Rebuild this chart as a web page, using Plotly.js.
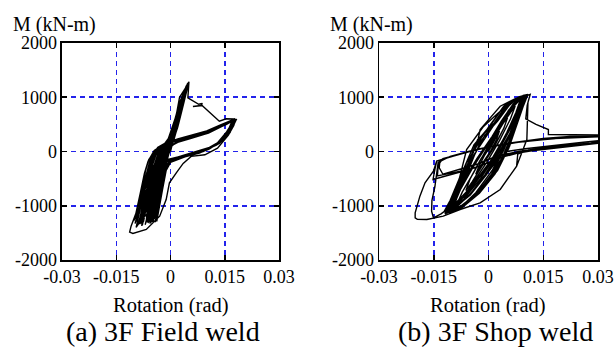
<!DOCTYPE html>
<html>
<head>
<meta charset="utf-8">
<script src="https://cdn.plot.ly/plotly-3.0.1.min.js"></script>
<style>html,body{margin:0;padding:0;background:#fff;}#chart{width:615px;height:347px;}</style>
</head>
<body>
<div id="chart"></div>
<script>
// ---- Data: [rotation (rad), moment (kN-m)] ----
var tickValsX = [-0.03, -0.015, 0, 0.015, 0.03];
var tickTextX = ['-0.03', '-0.015', '0', '0.015', '0.03'];
var tickValsY = [-2000, -1000, 0, 1000, 2000];
var tickTextY = ['-2000', '-1000', '0', '1000', '2000'];
var captions = ['(a) 3F Field weld', '(b) 3F Shop weld'];
var xTitle = 'Rotation (rad)';
var yTitle = 'M (kN-m)';

// (a) 3F Field weld
var fieldPoints = [
 [0,0],
 [0.001,300],[0.0015,420],[0.0008,200],[-0.0005,-50],[-0.0015,-300],[-0.0025,-550],[-0.002,-400],[-0.001,-100],[0,150],
 [0.0015,500],[0.0028,800],[0.0022,650],[0.0008,250],[-0.0008,-50],[-0.0025,-400],[-0.004,-850],[-0.0035,-700],[-0.0022,-250],[-0.001,50],[0.0005,300],
 [0.002,650],[0.0038,1050],[0.0032,900],[0.0015,450],[0,50],[-0.002,-200],[-0.0035,-550],[-0.0048,-1000],[-0.0055,-1250],[-0.0048,-1050],[-0.0035,-600],[-0.0022,-150],[-0.0005,200],
 [0.0015,550],[0.0035,1000],[0.0048,1230],[0.0042,1080],[0.0025,650],[0.0008,200],[-0.0015,-100],[-0.0035,-450],[-0.005,-950],[-0.0062,-1320],[-0.0055,-1150],[-0.004,-650],[-0.0028,-200],[-0.001,150],
 [0.001,450],[0.0025,1000],[0.0046,1220],[0.005,1260],[0.0043,1080],[0.0022,580],[0.0005,150],[-0.002,-150],[-0.004,-500],[-0.0055,-950],[-0.007,-1350],[-0.0063,-1180],[-0.005,-700],[-0.0038,-250],[-0.0015,150],
 [0.0005,250],[0.0025,900],[0.0045,1220],[0.0049,1250],[0.0044,1100],[0.003,750],[0.0015,350],[0,80],[-0.0015,-80],[-0.003,-250],[-0.0042,-600],[-0.0052,-1000],[-0.0058,-1280],[-0.0053,-1120],[-0.0042,-700],[-0.003,-250],[-0.0015,50],
 [0.0002,300],[0.0022,850],[0.004,1150],[0.0048,1240],[0.0045,1150],[0.0032,800],[0.0015,380],[-0.0003,100],[-0.002,-60],[-0.0038,-250],[-0.005,-500],[-0.0062,-900],[-0.0075,-1300],[-0.0068,-1100],[-0.0057,-700],[-0.0045,-300],[-0.0025,20],
 [-0.0005,150],[0.0018,700],[0.0036,1050],[0.005,1260],[0.0046,1170],[0.0035,850],[0.002,450],[0.0005,150],[-0.001,-30],[-0.0025,-200],[-0.0035,-500],[-0.0045,-900],[-0.0052,-1300],[-0.0047,-1150],[-0.0038,-800],[-0.0028,-350],[-0.0015,0],
 [0,200],[0.0025,850],[0.0042,1180],[0.0051,1270],[0.0047,1180],[0.0037,900],[0.0022,500],[0.0006,180],[-0.0012,20],[-0.003,-180],[-0.0048,-450],[-0.006,-800],[-0.0072,-1200],[-0.0078,-1360],[-0.0072,-1200],[-0.006,-750],[-0.005,-350],[-0.0035,-50],
 [-0.0012,100],[0.001,500],[0.003,950],[0.0047,1240],[0.0043,1120],[0.0032,800],[0.0018,420],[0.0002,120],[-0.0018,-30],[-0.0035,-200],[-0.0043,-550],[-0.005,-950],[-0.0057,-1330],[-0.0052,-1180],[-0.0044,-800],[-0.0036,-400],[-0.002,-20],
 [0,250],[0.0023,820],[0.0041,1160],[0.005,1265],[0.0046,1150],[0.0034,820],[0.0019,430],[0.0003,130],[-0.0015,-20],[-0.0033,-220],[-0.0047,-520],[-0.0058,-920],[-0.0068,-1310],[-0.0062,-1150],[-0.0052,-750],[-0.0042,-330],[-0.0025,20],
 [0,240],[0.0026,880],[0.0043,1200],[0.005,1275],[0.0044,1130],[0.0031,760],[0.0014,340],[-0.0004,90],[-0.002,-80],[-0.0036,-300],[-0.0042,-700],[-0.0047,-1050],[-0.0048,-1300],[-0.0043,-1120],[-0.0036,-750],[-0.0028,-300],[-0.0012,60],
 [0.0012,450],[0.003,900],[0.0046,1200],[0.0049,1230],[0.0042,1050],[0.0028,700],[0.001,280],[-0.0008,60],[-0.0025,-120],[-0.0045,-350],[-0.0055,-650],[-0.0063,-1000],[-0.0067,-1280],[-0.0061,-1100],[-0.0053,-700],[-0.0046,-300],[-0.003,30],
 [-0.0008,200],[0.0015,650],[0.0033,1000],[0.0048,1250],[0.0045,1150],[0.0036,900],[0.0022,520],[0.0008,200],[-0.0008,20],[-0.0022,-150],[-0.0032,-450],[-0.004,-850],[-0.0046,-1250],[-0.0042,-1100],[-0.0034,-700],[-0.0025,-300],[-0.001,80],
 [0.001,400],[0.0027,850],[0.0045,1210],[0.0051,1280],[0.0047,1190],[0.0038,950],[0.0024,560],[0.001,230],[-0.0006,50],[-0.0028,-160],[-0.0052,-400],[-0.0066,-750],[-0.0078,-1150],[-0.0085,-1340],[-0.0079,-1200],[-0.0068,-800],[-0.0058,-350],[-0.0042,-60],[-0.0015,120],
 [0.0008,420],[0.0029,880],[0.0047,1250],[0.0043,1100],[0.003,780],[0.0013,330],[-0.0005,70],[-0.0022,-110],[-0.004,-330],[-0.0051,-720],[-0.006,-1100],[-0.0064,-1300],[-0.0058,-1130],[-0.0049,-720],[-0.004,-320],[-0.0022,40],
 [0.0005,350],[0.0024,840],[0.0044,1200],[0.0049,1260],[0.0045,1160],[0.0034,850],[0.0018,430],[0.0002,140],[-0.0016,-40],[-0.0034,-230],[-0.0046,-560],[-0.0056,-960],[-0.0062,-1250],[-0.0056,-1080],[-0.0047,-680],[-0.0038,-290],[-0.002,40],
 [0,300],[0.002,780],[0.0039,1120],[0.005,1270],[0.0045,1140],[0.0033,820],[0.0017,400],[0,110],[-0.0017,-60],[-0.0032,-300],[-0.0038,-650],[-0.0043,-1000],[-0.0045,-1240],[-0.004,-1080],[-0.0032,-700],[-0.0024,-280],[-0.001,70],
 [0.0012,480],[0.0031,920],[0.0047,1230],[0.0051,1280],[0.0046,1170],[0.0036,880],[0.002,470],[0.0004,150],[-0.0014,-20],[-0.0034,-200],[-0.0055,-420],[-0.007,-800],[-0.0082,-1180],[-0.0089,-1330],[-0.0083,-1180],[-0.0072,-780],[-0.0063,-340],[-0.0048,-60],[-0.002,110],
 [0.0004,330],[0.0024,830],[0.0043,1190],[0.005,1270],[0.0045,1150],[0.0033,810],[0.0016,390],[-0.0002,100],[-0.0019,-70],[-0.0037,-280],[-0.0049,-620],[-0.0058,-1000],[-0.0064,-1290],[-0.0058,-1120],[-0.005,-720],[-0.0041,-310],[-0.0023,30],
 [-0.0002,250],[0.002,760],[0.004,1150],[0.0049,1255],[0.0044,1120],[0.0032,790],[0.0016,380],[-0.0001,100],[-0.0018,-50],[-0.0036,-240],[-0.0044,-580],[-0.0052,-980],[-0.0058,-1300],[-0.0053,-1140],[-0.0045,-760],[-0.0037,-360],[-0.002,10],
 [0.0008,420],[0.0028,860],[0.0044,1180],[0.0051,1287],
 [0.0048,990],[0.0078,870],[0.0088,885],[0.0085,850],[0.0062,830],[0.0088,845],[0.0135,558],[0.0154,603],[0.0175,600],[0.0182,590],
 [0.017,420],[0.0145,220],[0.011,80],[0.007,0],[0.003,-80],[-0.001,-180],[-0.0035,-400],[-0.0055,-800],[-0.0075,-1250],[-0.008,-1370],
 [-0.0072,-1150],[-0.0062,-700],[-0.0052,-300],[-0.0038,0],[-0.0015,150],[0.002,230],[0.006,300],[0.01,380],[0.0135,480],[0.0165,560],[0.0178,600],
 [0.0168,420],[0.014,200],[0.0115,80],[0.008,-30],[0.004,-100],[0,-200],[-0.002,-350],[-0.0035,-700],[-0.005,-1200],[-0.0055,-1320],
 [-0.005,-1100],[-0.004,-650],[-0.0028,-250],[-0.0012,100],[0.0015,200],[0.005,270],[0.009,330],[0.0125,430],[0.0155,520],[0.0172,590],
 [0.016,400],[0.013,160],[0.0095,20],[0.006,-60],[0.002,-130],[-0.0008,-220],[-0.0018,-450],[-0.003,-900],[-0.0042,-1300],
 [-0.0038,-1100],[-0.003,-700],[-0.0022,-300],[-0.0008,80],[0.002,180],[0.006,250],[0.0105,340],[0.0145,470],[0.0168,560],
 [0.0165,350],[0.0135,150],[0.01,30],[0.006,-40],[0.002,-100],[-0.001,-150],[-0.0035,-220],[-0.0058,-300],[-0.0072,-700],[-0.0088,-1100],[-0.0098,-1330],
 [-0.0092,-1200],[-0.0078,-800],[-0.0066,-400],[-0.0054,-100],[-0.0035,80],[-0.001,170],[0.003,250],[0.008,310],[0.012,400],[0.0155,500],[0.0175,580],
 [0.0165,400],[0.0138,180],[0.0105,40],[0.007,-40],[0.003,-90],[0,-160],[-0.0025,-250],[-0.0045,-450],[-0.0062,-850],[-0.0078,-1250],[-0.0082,-1330],
 [-0.0076,-1150],[-0.0064,-700],[-0.0055,-300],[-0.0042,-50],[-0.002,120],[0.001,190],[0.005,270],[0.0095,340],[0.013,440],[0.016,540],[0.0178,595],
 [0.0168,430],[0.0142,200],[0.0108,50],[0.0075,-40],[0.0035,-90],[0.0005,-170],[-0.0015,-300],[-0.0028,-650],[-0.004,-1050],[-0.0048,-1300],
 [-0.0043,-1100],[-0.0033,-650],[-0.0024,-250],[-0.001,60],[0.002,170],[0.007,270],[0.011,360],[0.0145,480],[0.017,570],
 [0.016,380],[0.0132,170],[0.0098,40],[0.0065,-30],[0.003,-80],[0.0005,-130],[-0.002,-200],[-0.004,-300],[-0.0055,-600],[-0.0068,-1000],[-0.0076,-1280],
 [-0.007,-1120],[-0.0062,-750],[-0.0058,-300],[-0.0045,-100],[-0.0025,60],[0.0005,170],[0.004,240],[0.0085,310],[0.0125,410],[0.0158,520],[0.0176,590],
 [0.0163,370],[0.0136,160],[0.0102,30],[0.0068,-45],[0.0032,-110],[0,-200],[-0.0012,-350],[-0.0022,-700],[-0.0032,-1100],[-0.0038,-1290],
 [-0.0034,-1100],[-0.0027,-700],[-0.002,-300],[-0.0008,40],[0.0015,160],[0.0055,240],[0.01,330],[0.014,460],[0.0172,580],
 [0.016,350],[0.0128,120],[0.0092,10],[0.0055,-60],[0.002,-120],[-0.0012,-200],[-0.0038,-280],[-0.0062,-500],[-0.0078,-900],[-0.009,-1200],[-0.0096,-1300],
 [-0.009,-1150],[-0.0079,-750],[-0.0069,-350],[-0.006,-150],[-0.004,40],[-0.0012,150],[0.003,240],[0.0075,300],[0.0115,380],[0.015,490],[0.0179,600],
 [0.0166,390],[0.0139,190],[0.0106,50],[0.0072,-30],[0.0035,-80],[0.0008,-140],[-0.0012,-250],[-0.0033,-500],[-0.0052,-900],[-0.0064,-1250],
 [-0.0059,-1100],[-0.0049,-700],[-0.0042,-300],[-0.003,0],[-0.001,140],[0.0025,220],[0.007,290],[0.011,370],[0.0148,490],[0.0172,575],
 [0.0162,360],[0.0133,150],[0.0099,25],[0.0062,-50],[0.0025,-110],[-0.0008,-170],[-0.0035,-250],[-0.0058,-330],[-0.0075,-750],[-0.0092,-1150],[-0.0102,-1280],
 [-0.0096,-1150],[-0.0084,-780],[-0.0072,-400],[-0.0062,-180],[-0.0045,20],[-0.0015,150],[0.0025,230],[0.0072,300],[0.0112,380],[0.015,500],[0.0177,595],
 [0.0164,380],[0.0136,170],[0.0103,40],[0.0068,-40],[0.003,-95],[0.0002,-150],[-0.0022,-220],[-0.0045,-380],[-0.006,-780],[-0.0072,-1150],[-0.0079,-1300],
 [-0.0073,-1130],[-0.0063,-720],[-0.0054,-330],[-0.004,-60],[-0.0018,120],[0.0012,190],[0.0052,265],[0.0095,340],[0.0132,450],[0.0163,550],[0.0178,600],
 [0.0155,360],[0.0125,120],[0.009,0],[0.005,-70],[0.001,-150],[-0.002,-300],[-0.0045,-700],[-0.0065,-1150],[-0.0085,-1300],[-0.0095,-1400],
 [-0.009,-1250],[-0.0078,-900],[-0.0066,-500],[-0.0055,-200],[-0.0042,-20],[-0.002,130],[0.001,200],[0.0045,260],[0.0085,320],[0.012,400],[0.015,500],[0.018,590],
 [0.0175,480],[0.016,300],[0.013,60],[0.0095,-60],[0.0057,-90],[0.0035,-220],[0.0016,-393],[-0.0003,-577],[-0.0012,-885],[-0.003,-1192],[-0.0067,-1437],[-0.0104,-1511],[-0.0113,-1487],
 [-0.0109,-1376],[-0.0095,-1130],[-0.0077,-700],[-0.0063,-332],[-0.0049,-86],[-0.003,98],[-0.0003,190],[0.002,210]
];

// (b) 3F Shop weld
var shopPoints = [
 [0,0],
 [0.0015,200],[0.003,380],[0.0022,220],[0.0005,0],[-0.0015,-200],[-0.0035,-420],[-0.0027,-280],[-0.001,-60],[0.001,150],
 [0.0035,480],[0.0052,620],[0.0042,430],[0.0015,80],[-0.0015,-250],[-0.0045,-560],[-0.0062,-720],[-0.005,-500],[-0.0022,-150],[0.001,180],
 [0.004,520],[0.0065,780],[0.0073,840],[0.006,600],[0.003,200],[-0.0005,-200],[-0.004,-550],[-0.007,-850],[-0.0088,-990],[-0.0072,-750],[-0.004,-380],[-0.0005,50],
 [0.003,420],[0.0065,800],[0.009,980],[0.0093,990],[0.0078,700],[0.0045,280],[0.0008,-150],[-0.003,-500],[-0.007,-850],[-0.0105,-1080],[-0.0108,-1100],[-0.009,-850],[-0.006,-480],[-0.002,-30],
 [0.002,320],[0.0059,760],[0.0095,1032],[0.0105,1045],[0.0093,830],[0.0068,450],[0.0035,0],[-0.0005,-420],[-0.005,-800],[-0.0095,-1050],[-0.0118,-1130],[-0.0105,-950],[-0.0075,-600],[-0.004,-250],[-0.0005,100],
 [0.0035,500],[0.007,880],[0.0098,1030],[0.0102,1020],[0.0088,750],[0.006,300],[0.0025,-150],[-0.002,-550],[-0.006,-850],[-0.0098,-1060],[-0.0112,-1100],[-0.0095,-880],[-0.0065,-520],[-0.003,-120],[0.0005,200],
 [0.003,420],[0.006,780],[0.0085,960],[0.0088,970],[0.0075,720],[0.005,350],[0.0015,-100],[-0.0025,-480],[-0.0065,-820],[-0.0095,-1020],[-0.01,-1040],[-0.0085,-800],[-0.0055,-420],[-0.0015,0],
 [0.0025,400],[0.0055,760],[0.0082,950],[0.0098,1020],[0.0085,760],[0.0062,380],[0.003,-50],[-0.0012,-470],[-0.0055,-820],[-0.0092,-1040],[-0.011,-1110],[-0.0095,-900],[-0.0065,-540],[-0.0025,-100],
 [0.0018,330],[0.005,700],[0.0078,920],[0.0102,1040],[0.0092,820],[0.0075,450],[0.0052,30],[0.002,-380],[-0.0025,-740],[-0.0075,-1000],[-0.0112,-1120],[-0.0105,-940],[-0.0085,-620],[-0.006,-200],[-0.003,120],
 [0.001,450],[0.0045,780],[0.0075,960],[0.0096,1030],[0.0108,1050],[0.0096,850],[0.0078,480],[0.0055,50],[0.0015,-380],[-0.0028,-760],[-0.0072,-1020],[-0.0105,-1110],[-0.0118,-1140],[-0.0112,-1000],[-0.009,-700],[-0.0062,-300],[-0.0035,100],
 [0,450],[0.0045,860],[0.009,1000],[0.0094,1010],[0.0082,780],[0.0058,400],[0.0022,-50],[-0.0022,-500],[-0.0068,-880],[-0.0102,-1080],[-0.0106,-1090],[-0.0088,-830],[-0.0058,-460],[-0.002,-20],
 [0.0025,420],[0.0062,820],[0.0088,990],[0.0099,1030],[0.0087,790],[0.0064,400],[0.003,0],[-0.001,-430],[-0.0052,-800],[-0.009,-1040],[-0.0114,-1130],[-0.0098,-920],[-0.007,-560],[-0.0032,-130],[0.001,280],
 [0.0035,560],[0.0068,880],[0.0092,1000],[0.0097,1010],[0.009,820],[0.007,420],[0.004,-80],[0,-520],[-0.0045,-860],[-0.0085,-1060],[-0.0108,-1110],[-0.0095,-870],[-0.0068,-480],[-0.004,-60],
 [0.002,540],[0.0058,900],[0.0085,1010],[0.0101,1040],[0.0094,870],[0.0078,520],[0.0058,100],[0.0025,-350],[-0.002,-720],[-0.0068,-990],[-0.0103,-1100],[-0.0119,-1150],[-0.011,-980],[-0.0088,-640],[-0.0065,-250],[-0.004,120],
 [0.0005,480],[0.004,820],[0.0072,970],[0.0093,1020],[0.0083,800],[0.0065,430],[0.0042,30],[0.0008,-420],[-0.0035,-800],[-0.0078,-1040],[-0.0104,-1110],[-0.009,-880],[-0.0066,-500],[-0.0042,-120],[-0.002,200],
 [0.0015,500],[0.005,860],[0.0082,1000],[0.0092,1020],[0.0084,840],[0.0068,500],[0.0045,100],[0.001,-350],[-0.0035,-760],[-0.0075,-1020],[-0.0098,-1090],[-0.0087,-860],[-0.0062,-460],[-0.0038,-60],[-0.001,300],
 [0.0025,560],[0.006,880],[0.0087,1000],[0.0096,1025],[0.0088,830],[0.0072,480],[0.005,60],[0.0015,-400],[-0.003,-780],[-0.0072,-1030],[-0.0101,-1100],[-0.0092,-900],[-0.007,-520],[-0.0048,-120],[-0.0025,250],
 [0.0015,520],[0.0052,850],[0.008,990],[0.0099,1035],[0.009,840],[0.0074,470],[0.0052,40],[0.0018,-410],[-0.0025,-770],[-0.007,-1020],[-0.0107,-1120],[-0.0098,-910],[-0.0076,-560],[-0.0052,-150],[-0.003,220],
 [0.001,470],[0.0045,820],[0.0077,980],[0.0097,1030],[0.0089,830],[0.0072,460],[0.0048,20],[0.0012,-430],[-0.0032,-790],[-0.0075,-1030],[-0.0109,-1120],[-0.0099,-900],[-0.0075,-540],[-0.005,-140],[-0.0028,240],
 [-0.0023,405],[0.0032,835],[0.0075,980],[0.0105,1040],[0.0114,1050],[0.0108,900],[0.0105,221],[0.0077,-270],[0.0032,-700],[-0.0023,-946],[-0.0078,-1069],[-0.0115,-1120],[-0.0122,-1110],[-0.0105,-900],[-0.008,-500],[-0.006,37],[-0.0015,450],[0.0025,700],[0.006,900],[0.0095,1020],[0.0114,1050],
 [0.0106,850],[0.0102,600],[0.013,500],[0.0164,405],[0.0164,313],[0.022,305],[0.03,300],[0.035,300],
 [0.034,220],[0.028,160],[0.02,100],[0.0137,37],[0.008,-30],[0.004,-100],
 [0,-200],[-0.005,-330],[-0.01,-420],[-0.0152,-516],[-0.0147,-330],[-0.0142,-178],[-0.011,-110],[-0.0065,-20],[-0.002,50],[0.004,130],[0.012,210],[0.022,265],[0.035,290],
 [0.034,190],[0.026,140],[0.017,70],[0.009,10],[0.004,-60],
 [0.001,-120],[-0.003,-230],[-0.008,-330],[-0.0125,-420],[-0.0135,-300],[-0.0133,-160],[-0.01,-80],[-0.0055,0],[-0.001,70],[0.005,150],[0.014,220],[0.024,275],[0.035,300],
 [0.034,200],[0.027,140],[0.019,80],[0.012,20],[0.006,-40],
 [0.002,-150],[-0.002,-260],[-0.006,-340],[-0.011,-400],[-0.014,-450],[-0.0138,-250],[-0.0125,-130],[-0.0085,-60],[-0.004,30],[0.002,110],[0.01,190],[0.02,250],[0.035,280],
 [0.034,180],[0.026,120],[0.018,60],[0.01,0],[0.004,-80],
 [0,-250],[-0.004,-600],[-0.009,-950],[-0.013,-1150],[-0.0151,-1222],[-0.0156,-1100],[-0.0155,-900],[-0.0147,-650],[-0.0142,-400],[-0.0138,-200],[-0.0105,-90],[-0.005,10],[0.001,90],[0.008,170],[0.018,240],[0.028,280],[0.035,285],
 [0.034,210],[0.027,150],[0.018,90],[0.011,30],[0.008,-50],
 [0.0077,-270],[0.0032,-700],[-0.0023,-946],[-0.0078,-1069],[-0.0124,-1192],[-0.0169,-1253],[-0.0195,-1250],[-0.0201,-1222],[-0.0201,-1130],[-0.0188,-823],[-0.0174,-577],[-0.0151,-363],[-0.0142,-178],[-0.0096,-86],[-0.0032,37],[0.0013,100],[0.006,160],[0.015,240],[0.025,290],[0.035,310],
 [0.034,230],[0.026,170],[0.017,110],[0.01,50],[0.005,0]
];

// ---- Styling ----
var FONT = '"Liberation Serif", "Times New Roman", Times, serif';
var GRID = 'rgb(35,35,235)';

function xAxis(domain, anchor) {
  return {
    domain: domain, anchor: anchor, range: [-0.03, 0.03],
    tickmode: 'array', tickvals: tickValsX, ticktext: tickTextX,
    showgrid: true, gridcolor: GRID, gridwidth: 1.5, griddash: '5px,4px',
    zeroline: false, showline: true, linecolor: '#000', linewidth: 1.5,
    mirror: 'ticks', ticks: 'inside', ticklen: 5, tickcolor: '#000', tickwidth: 1.5,
    tickfont: {family: FONT, size: 18, color: '#000'}, fixedrange: true
  };
}
function yAxis(domain, anchor) {
  return {
    domain: domain, anchor: anchor, range: [-2000, 2000],
    tickmode: 'array', tickvals: tickValsY, ticktext: tickTextY,
    showgrid: true, gridcolor: GRID, gridwidth: 1.5, griddash: '5px,4px',
    zeroline: false, showline: true, linecolor: '#000', linewidth: 1.5,
    mirror: 'ticks', ticks: 'inside', ticklen: 5, tickcolor: '#000', tickwidth: 1.5,
    tickfont: {family: FONT, size: 18, color: '#000'}, fixedrange: true
  };
}

function col(points, i) { return points.map(function (p) { return p[i]; }); }

var yDom = [0.2507, 0.8761];
var traces = [
  {x: col(fieldPoints, 0), y: col(fieldPoints, 1), xaxis: 'x', yaxis: 'y', type: 'scatter', mode: 'lines',
   line: {color: '#000', width: 1.4}, hoverinfo: 'skip'},
  {x: col(shopPoints, 0), y: col(shopPoints, 1), xaxis: 'x2', yaxis: 'y2', type: 'scatter', mode: 'lines',
   line: {color: '#000', width: 1.4}, hoverinfo: 'skip'}
];

function ann(text, x, y, size) {
  return {text: text, xref: 'paper', yref: 'paper', x: x, y: y,
          xanchor: 'center', yanchor: 'middle', showarrow: false, borderpad: 0,
          font: {family: FONT, size: size, color: '#000'}};
}

var layout = {
  width: 615, height: 347,
  margin: {l: 0, r: 0, t: 0, b: 0},
  paper_bgcolor: '#fff', plot_bgcolor: '#fff',
  showlegend: false,
  xaxis: xAxis([0.1008, 0.4537], 'y'),
  yaxis: yAxis(yDom, 'x'),
  xaxis2: xAxis([0.6163, 0.9724], 'y2'),
  yaxis2: yAxis(yDom, 'x2'),
  annotations: [
    ann(yTitle, 0.0886, 0.9308, 20),
    ann(yTitle, 0.604, 0.9308, 20),
    ann(xTitle, 0.278, 0.121, 20.5),
    ann(xTitle, 0.7943, 0.121, 20.5),
    ann(captions[0], 0.265, 0.046, 28),
    ann(captions[1], 0.805, 0.046, 28)
  ]
};

Plotly.newPlot('chart', traces, layout, {displayModeBar: false, staticPlot: true});
</script>
</body>
</html>
